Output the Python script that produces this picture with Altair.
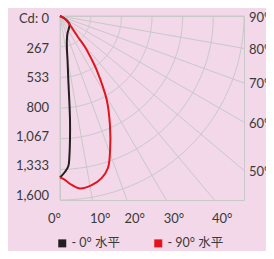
import altair as alt
import pandas as pd
import numpy as np

# ---- data ----
c0_angle = [70, 63, 57, 50, 37, 24, 16, 11.6, 9.7, 7.4, 6.3, 5.5, 4.6, 3.9, 3.2, 1.8, 0]
c0_cd = [0, 39, 72, 108, 130, 162, 217, 302, 388, 561, 735, 908, 1082, 1211, 1306, 1357, 1404]
c90_angle = [60, 59, 48, 40.6, 38.9, 36, 34.2, 29.1, 24.6, 20.5, 17.5, 14.4, 10.6, 6.6, 4.0, 1.7, 0]
c90_cd = [0, 51, 117, 240, 346, 473, 568, 836, 1043, 1244, 1386, 1455, 1496, 1509, 1473, 1426, 1404]
series_names = ["- 0° 水平", "- 90° 水平"]
series_colors = ["#231f20", "#e4141e"]

cd_max = 1600
cd_ticks = [0, 266.67, 533.33, 800, 1066.67, 1333.33, 1600]
cd_labels = ["Cd: 0", "267", "533", "800", "1,067", "1,333", "1,600"]
ray_angles = [0, 10, 20, 30, 40, 50, 60, 70, 80, 90]
bottom_angles = [0, 10, 20, 30, 40]
bottom_labels = ["0°", "10°", "20°", "30°", "40°"]
side_angles = [50, 60, 70, 80, 90]
side_labels = ["50°", "60°", "70°", "80°", "90°"]

BG = "#f2d8e8"
GRID = "#c9c9c9"
TXT = "#3a3a3a"
FONT = "Lato"

curves = pd.DataFrame(
    [{"series": series_names[0], "i": i, "angle": a, "cd": c} for i, (a, c) in enumerate(zip(c0_angle, c0_cd))]
    + [{"series": series_names[1], "i": i, "angle": a, "cd": c} for i, (a, c) in enumerate(zip(c90_angle, c90_cd))]
)
arcs = pd.DataFrame(
    [{"r": r, "a": a} for r in cd_ticks[1:] for a in range(0, 91)]
)
rays = pd.DataFrame({"angle": ray_angles})
cdlab = pd.DataFrame({"v": cd_ticks, "label": cd_labels})
bottom = pd.DataFrame({"angle": bottom_angles, "label": bottom_labels})
side = pd.DataFrame({"angle": side_angles, "label": side_labels})

xs = alt.Scale(domain=[0, cd_max], nice=False, zero=False)
ys = alt.Scale(domain=[0, cd_max], nice=False, zero=False, reverse=True)

arc_layer = alt.Chart(arcs).transform_calculate(
    x="datum.r*sin(datum.a*PI/180)", y="datum.r*cos(datum.a*PI/180)"
).mark_line(color=GRID, strokeWidth=1).encode(
    x=alt.X("x:Q", scale=xs, axis=None),
    y=alt.Y("y:Q", scale=ys, axis=None),
    detail="r:N",
    order="a:Q",
)

ray_layer = alt.Chart(rays).transform_calculate(
    x0="0", y0="0",
    x1=f"datum.angle <= 45 ? {cd_max}*tan(datum.angle*PI/180) : {cd_max}",
    y1=f"datum.angle <= 45 ? {cd_max} : {cd_max}/tan(datum.angle*PI/180)",
).mark_rule(color=GRID, strokeWidth=1).encode(
    x=alt.X("x0:Q", scale=xs, axis=None),
    y=alt.Y("y0:Q", scale=ys, axis=None),
    x2="x1:Q",
    y2="y1:Q",
)

curve_layer = alt.Chart(curves).transform_calculate(
    x="datum.cd*sin(datum.angle*PI/180)", y="datum.cd*cos(datum.angle*PI/180)"
).mark_line(strokeWidth=2, interpolate="catmull-rom").encode(
    x=alt.X("x:Q", scale=xs, axis=None),
    y=alt.Y("y:Q", scale=ys, axis=None),
    order="i:Q",
    color=alt.Color(
        "series:N",
        scale=alt.Scale(domain=series_names, range=series_colors),
        legend=alt.Legend(
            orient="none", legendX=-4, legendY=221, direction="horizontal",
            title=None, symbolType="square", symbolSize=1, symbolStrokeWidth=7,
            labelFont=f"{FONT}, Noto Sans CJK SC", labelFontSize=12.5, labelColor=TXT,
            labelOffset=3, columnPadding=23, padding=0,
        ),
    ),
)

cd_layer = alt.Chart(cdlab).mark_text(
    align="right", baseline="middle", font=FONT, fontSize=13, color=TXT
).encode(
    x=alt.value(-11),
    y=alt.Y("v:Q", scale=alt.Scale(domain=[0, cd_max], range=[3, 180]), axis=None),
    text="label:N",
)

bottom_base = alt.Chart(bottom).transform_calculate(
    x=f"{cd_max}*tan(datum.angle*PI/180)"
)
bottom0 = bottom_base.transform_filter("datum.angle == 0").mark_text(
    align="right", baseline="middle", dx=1, font=FONT, fontSize=13, color=TXT
).encode(x=alt.X("x:Q", scale=xs, axis=None), y=alt.value(202.5), text="label:N")
bottom_rest = bottom_base.transform_filter("datum.angle > 0").mark_text(
    align="left", baseline="middle", dx=-2.5, font=FONT, fontSize=13, color=TXT
).encode(x=alt.X("x:Q", scale=xs, axis=None), y=alt.value(202.5), text="label:N")

side_layer = alt.Chart(side).transform_calculate(
    y=f"{cd_max}/tan(datum.angle*PI/180)"
).mark_text(
    align="left", baseline="middle", dy=1.5, font=FONT, fontSize=13, color=TXT
).encode(
    x=alt.value(189),
    y=alt.Y("y:Q", scale=ys, axis=None),
    text="label:N",
)

chart = alt.layer(
    arc_layer, ray_layer, curve_layer, cd_layer, bottom0, bottom_rest, side_layer
).resolve_scale(y="independent").properties(
    width=184, height=184,
    autosize=alt.AutoSizeParams(type="none"),
    padding={"left": 52, "top": 8, "right": 22, "bottom": 51},
    background=BG,
).configure_view(stroke=GRID, strokeWidth=1)

chart.save("out.html", embed_options={"renderer": "svg", "actions": False})
